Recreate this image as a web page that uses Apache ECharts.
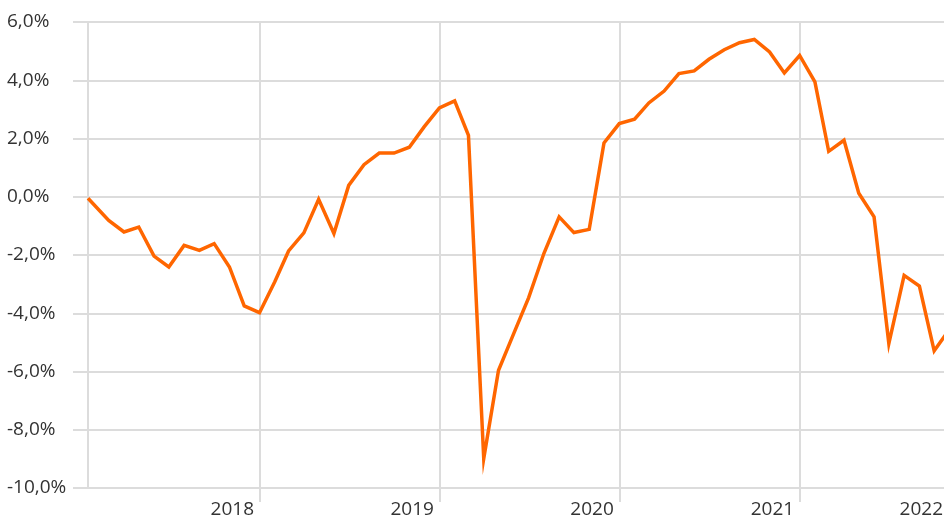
<!DOCTYPE html>
<html>
<head>
<meta charset="utf-8">
<script src="https://cdn.jsdelivr.net/npm/echarts@6/dist/echarts.min.js"></script>
<style>
  html, body { margin: 0; padding: 0; background: #fff; }
  #chart { width: 944px; height: 519px; }
</style>
</head>
<body>
<div id="chart"></div>
<script>
// month-end dates (first point = start of the axis)
const dates = [
  '2017-01-17', '2017-02-28', '2017-03-31', '2017-04-30', '2017-05-31', '2017-06-30',
  '2017-07-31', '2017-08-31', '2017-09-30', '2017-10-31', '2017-11-30', '2017-12-31',
  '2018-01-31', '2018-02-28', '2018-03-31', '2018-04-30', '2018-05-31', '2018-06-30',
  '2018-07-31', '2018-08-31', '2018-09-30', '2018-10-31', '2018-11-30', '2018-12-31',
  '2019-01-31', '2019-02-28', '2019-03-31', '2019-04-30', '2019-05-31', '2019-06-30',
  '2019-07-31', '2019-08-31', '2019-09-30', '2019-10-31', '2019-11-30', '2019-12-31',
  '2020-01-31', '2020-02-29', '2020-03-31', '2020-04-30', '2020-05-31', '2020-06-30',
  '2020-07-31', '2020-08-31', '2020-09-30', '2020-10-31', '2020-11-30', '2020-12-31',
  '2021-01-31', '2021-02-28', '2021-03-31', '2021-04-30', '2021-05-31', '2021-06-30',
  '2021-07-31', '2021-08-31', '2021-09-30', '2021-10-31'
];

// change in %
const values = [
  -0.05, -0.81, -1.21, -1.04, -2.04, -2.41, -1.67, -1.84, -1.61, -2.41, -3.75, -3.98,
  -2.92, -1.86, -1.24, -0.09, -1.26, 0.39, 1.10, 1.50, 1.50, 1.70, 2.40, 3.05,
  3.29, 2.11, -8.99, -5.96, -4.69, -3.47, -1.95, -0.69, -1.23, -1.12, 1.85, 2.51,
  2.66, 3.22, 3.63, 4.23, 4.32, 4.72, 5.05, 5.29, 5.40, 4.97, 4.25, 4.85,
  3.94, 1.56, 1.94, 0.12, -0.69, -5.04, -2.70, -3.07, -5.29, -4.55
];

const xMin = '2017-01-17';
const xMax = '2022-01-03';
const lastYearLabel = '2022';

const GRID = '#dcdcdc';
const TEXT = '#333333';
const FONT = '"Open Sans", sans-serif';
const DAY = 24 * 3600 * 1000;

const chart = echarts.init(document.getElementById('chart'));

const option = {
  animation: false,
  backgroundColor: '#ffffff',
  grid: {
    left: 88,
    right: -37,
    top: 22,
    bottom: 31,
    containLabel: false,
    outerBoundsMode: 'none'
  },
  xAxis: {
    type: 'time',
    min: xMin,
    max: xMax,
    minInterval: 365 * DAY,
    maxInterval: 366 * DAY,
    axisLine: { show: false, onZero: false },
    axisTick: { show: true, length: 14, lineStyle: { color: GRID, width: 2 } },
    splitLine: { show: true, showMaxLine: false, lineStyle: { color: GRID, width: 2 } },
    axisLabel: {
      showMinLabel: false,
      showMaxLabel: false,
      hideOverlap: false,
      align: 'right',
      margin: 12,
      formatter: function (v) {
        const y = String(new Date(v).getFullYear());
        return y === lastYearLabel ? '{e|' + y + '}' : '{n|' + y + '}';
      },
      rich: {
        n: { fontFamily: FONT, fontSize: 19, color: TEXT, padding: [0, 6, 0, 0] },
        e: { fontFamily: FONT, fontSize: 19, color: TEXT, padding: [0, 37, 0, 0] }
      }
    }
  },
  yAxis: {
    type: 'value',
    min: -10,
    max: 6,
    interval: 2,
    axisLine: { show: true, lineStyle: { color: GRID, width: 2 } },
    axisTick: { show: true, length: 15, lineStyle: { color: GRID, width: 2 } },
    splitLine: { show: true, lineStyle: { color: GRID, width: 2 } },
    axisLabel: {
      align: 'left',
      margin: 81,
      fontFamily: FONT,
      fontSize: 19,
      color: TEXT,
      formatter: function (v) {
        return v.toFixed(1).replace('.', ',') + '%';
      }
    }
  },
  series: [
    {
      type: 'line',
      data: dates.map((d, i) => [d, values[i]]),
      showSymbol: false,
      symbol: 'none',
      lineStyle: { color: '#ff6600', width: 3.5, join: 'miter' }
    }
  ]
};

chart.setOption(option);
</script>
</body>
</html>
